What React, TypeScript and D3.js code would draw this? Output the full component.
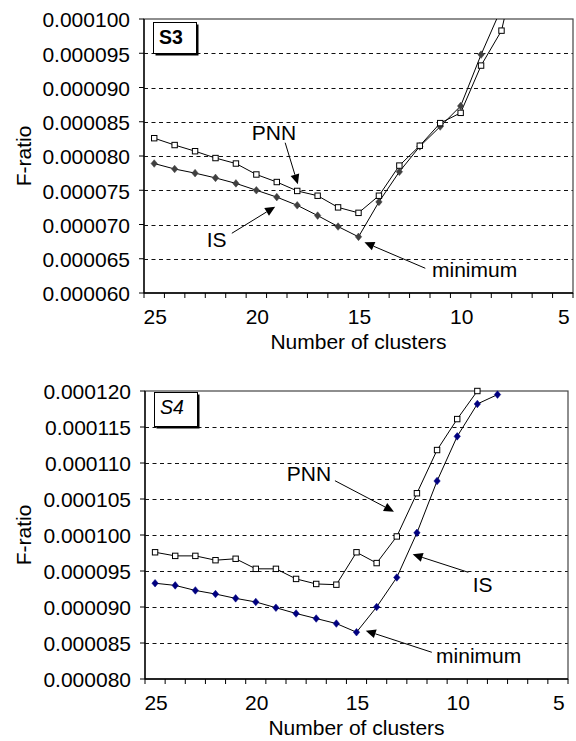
import React from "react";
import * as d3 from "d3";

// ---------- data ----------
const clusterTicks = [25, 20, 15, 10, 5];

// S3 (values in units of 1e-6)
const s3Clusters = [25, 24, 23, 22, 21, 20, 19, 18, 17, 16, 15, 14, 13, 12, 11, 10, 9, 8, 7];
const s3PNN = [82.6, 81.6, 80.7, 79.7, 78.9, 77.3, 76.2, 74.9, 74.2, 72.5, 71.7, 74.2, 78.6, 81.5, 84.8, 86.3, 93.2, 98.3, 111.3];
const s3IS = [78.9, 78.1, 77.5, 76.8, 76.0, 75.0, 74.0, 72.8, 71.3, 69.7, 68.2, 73.3, 77.7, 81.4, 84.3, 87.3, 94.8, 101.6];
const s3YTicks = [60, 65, 70, 75, 80, 85, 90, 95, 100];

// S4
const s4Clusters = [25, 24, 23, 22, 21, 20, 19, 18, 17, 16, 15, 14, 13, 12, 11, 10, 9, 8];
const s4PNN = [97.6, 97.1, 97.1, 96.5, 96.7, 95.3, 95.3, 93.9, 93.2, 93.1, 97.6, 96.1, 99.8, 105.8, 111.8, 116.1, 120.0];
const s4IS = [93.3, 93.0, 92.3, 91.8, 91.2, 90.7, 89.9, 89.1, 88.4, 87.7, 86.5, 90.0, 94.1, 100.3, 107.5, 113.7, 118.2, 119.5];
const s4YTicks = [80, 85, 90, 95, 100, 105, 110, 115, 120];

// annotations in data coordinates: [cluster, value]
const s3Notes = [
  { text: "PNN", at: [20.22, 82.34], tail: [18.59, 81.94], tip: [17.97, 75.87] },
  { text: "IS", at: [22.43, 66.76], tail: [21.2, 68.72], tip: [19.08, 72.6] },
  { text: "minimum", at: [11.4, 62.38], tail: [11.73, 63.61], tip: [14.71, 67.4] },
];
const s4Notes = [
  { text: "PNN", at: [18.46, 107.54], tail: [16.07, 107.54], tip: [13.14, 103.24] },
  { text: "IS", at: [9.23, 92.12], tail: [9.45, 94.82], tip: [12.21, 97.32] },
  { text: "minimum", at: [11.05, 82.18], tail: [11.26, 83.71], tip: [14.54, 86.71] },
];

const FONT = "'Liberation Sans', Arial, Helvetica, sans-serif";

type Note = { text: string; at: number[]; tail: number[]; tip: number[] };

function fmt(v: number) {
  return (v * 1e-6).toFixed(6);
}

function Arrow({ x1, y1, x2, y2 }: { x1: number; y1: number; x2: number; y2: number }) {
  const ang = Math.atan2(y2 - y1, x2 - x1);
  const L = 10, W = 4.5;
  const bx = x2 - L * Math.cos(ang), by = y2 - L * Math.sin(ang);
  const px = -Math.sin(ang) * W, py = Math.cos(ang) * W;
  return (
    <g>
      <line x1={x1} y1={y1} x2={bx} y2={by} stroke="#000" strokeWidth={1} />
      <polygon points={`${x2},${y2} ${bx + px},${by + py} ${bx - px},${by - py}`} fill="#000" />
    </g>
  );
}

function Panel(props: {
  id: string;
  left: number; right: number; top: number; bottom: number;
  yTicks: number[];
  clusters: number[];
  pnn: number[]; is: number[];
  isColor: string;
  label: string; labelStyle: "bold" | "italic";
  boxTop: number; boxH: number;
  notes: Note[];
}) {
  const { id, left, right, top, bottom, yTicks, clusters, pnn, is, isColor, label, labelStyle, boxTop, boxH, notes } = props;
  const x = d3.scaleLinear().domain([25.5, 4.5]).range([left, right]);
  const y = d3.scaleLinear().domain([yTicks[0], yTicks[yTicks.length - 1]]).range([bottom, top]);
  const ymin = yTicks[0], ymax = yTicks[yTicks.length - 1];
  const line = d3.line<[number, number]>().x((d) => x(d[0])).y((d) => y(d[1]));
  const pnnPts = pnn.map((v, i) => [clusters[i], v] as [number, number]);
  const isPts = is.map((v, i) => [clusters[i], v] as [number, number]);
  const inRange = (v: number) => v >= ymin - 0.01 && v <= ymax + 0.01;
  const boundaries = d3.range(0, 22).map((i) => 25.5 - i);
  const midY = (top + bottom) / 2;
  const midX = (left + right) / 2;

  return (
    <g>
      <defs>
        <clipPath id={`clip-${id}`}>
          <rect x={left} y={top} width={right - left} height={bottom - top} />
        </clipPath>
      </defs>
      {/* gridlines */}
      {yTicks.slice(1, -1).map((t) => (
        <line key={t} x1={left} x2={right} y1={Math.round(y(t)) + 0.5} y2={Math.round(y(t)) + 0.5} stroke="#111" strokeWidth={1} strokeDasharray="4,3.5" />
      ))}
      {/* frame */}
      <rect x={left} y={top} width={right - left} height={bottom - top} fill="none" stroke="#444" strokeWidth={1.2} />
      {/* axes */}
      <line x1={left} x2={left} y1={top} y2={bottom} stroke="#000" strokeWidth={1.3} />
      <line x1={left} x2={right} y1={bottom} y2={bottom} stroke="#000" strokeWidth={1.3} />
      {yTicks.map((t) => (
        <g key={t}>
          <line x1={left - 5} x2={left} y1={y(t)} y2={y(t)} stroke="#000" />
          <text x={left - 14} y={y(t)} dy="0.4em" textAnchor="end" fontSize={21} fontFamily={FONT} fill="#000">
            {fmt(t)}
          </text>
        </g>
      ))}
      {boundaries.map((b) => (
        <line key={b} x1={x(b)} x2={x(b)} y1={bottom} y2={bottom + 5} stroke="#000" />
      ))}
      {clusterTicks.map((c) => (
        <text key={c} x={x(c) + 1} y={bottom + 31} textAnchor="middle" fontSize={21} fontFamily={FONT} fill="#000">
          {c}
        </text>
      ))}
      <text x={midX} y={bottom + 56} textAnchor="middle" fontSize={21} fontFamily={FONT} fill="#000">
        Number of clusters
      </text>
      <text
        transform={`translate(31,${midY}) rotate(-90)`}
        textAnchor="middle" fontSize={21} fontFamily={FONT} fill="#000"
      >
        F-ratio
      </text>
      {/* series lines */}
      <g clipPath={`url(#clip-${id})`}>
        <path d={line(pnnPts) || ""} fill="none" stroke="#000" strokeWidth={1} />
        <path d={line(isPts) || ""} fill="none" stroke="#000" strokeWidth={1} />
      </g>
      {/* markers */}
      {isPts.filter((p) => inRange(p[1])).map((p, i) => (
        <path
          key={"i" + i}
          d={`M${x(p[0])},${y(p[1]) - 3.8} L${x(p[0]) + 3.2},${y(p[1])} L${x(p[0])},${y(p[1]) + 3.8} L${x(p[0]) - 3.2},${y(p[1])} Z`}
          fill={isColor} stroke={isColor} strokeWidth={0.5}
        />
      ))}
      {pnnPts.filter((p) => inRange(p[1])).map((p, i) => (
        <rect key={"p" + i} x={x(p[0]) - 2.7} y={y(p[1]) - 2.7} width={5.4} height={5.4} fill="#fff" stroke="#000" strokeWidth={1} />
      ))}
      {/* label box */}
      <rect x={left + 11.5} y={top + boxTop + 2.5} width={43} height={boxH} fill="#000" />
      <rect x={left + 9.5} y={top + boxTop + 0.5} width={43} height={boxH} fill="#fff" stroke="#000" strokeWidth={1} />
      <text
        x={left + 15} y={top + boxTop + 22} fontSize={19.5} fontFamily={FONT}
        fontWeight={labelStyle === "bold" ? "bold" : "normal"}
        fontStyle={labelStyle === "italic" ? "italic" : "normal"} fill="#000"
      >
        {label}
      </text>
      {/* annotations */}
      {notes.map((n) => (
        <g key={n.text}>
          <text x={x(n.at[0])} y={y(n.at[1])} fontSize={21} fontFamily={FONT} fill="#000">{n.text}</text>
          <Arrow x1={x(n.tail[0])} y1={y(n.tail[1])} x2={x(n.tip[0])} y2={y(n.tip[1])} />
        </g>
      ))}
    </g>
  );
}

export default function App() {
  return (
    <svg width={576} height={741} style={{ position: "absolute", left: 0, top: 0, background: "#fff" }}>
      <rect x={0} y={0} width={576} height={741} fill="#fff" />
      <Panel
        id="s3" left={144} right={573} top={19} bottom={293}
        yTicks={s3YTicks} clusters={s3Clusters} pnn={s3PNN} is={s3IS}
        isColor="#404040" label="S3" labelStyle="bold" boxTop={3} boxH={31} notes={s3Notes}
      />
      <Panel
        id="s4" left={145} right={568} top={391} bottom={679}
        yTicks={s4YTicks} clusters={s4Clusters} pnn={s4PNN} is={s4IS}
        isColor="#000080" label="S4" labelStyle="italic" boxTop={1} boxH={34} notes={s4Notes}
      />
    </svg>
  );
}
